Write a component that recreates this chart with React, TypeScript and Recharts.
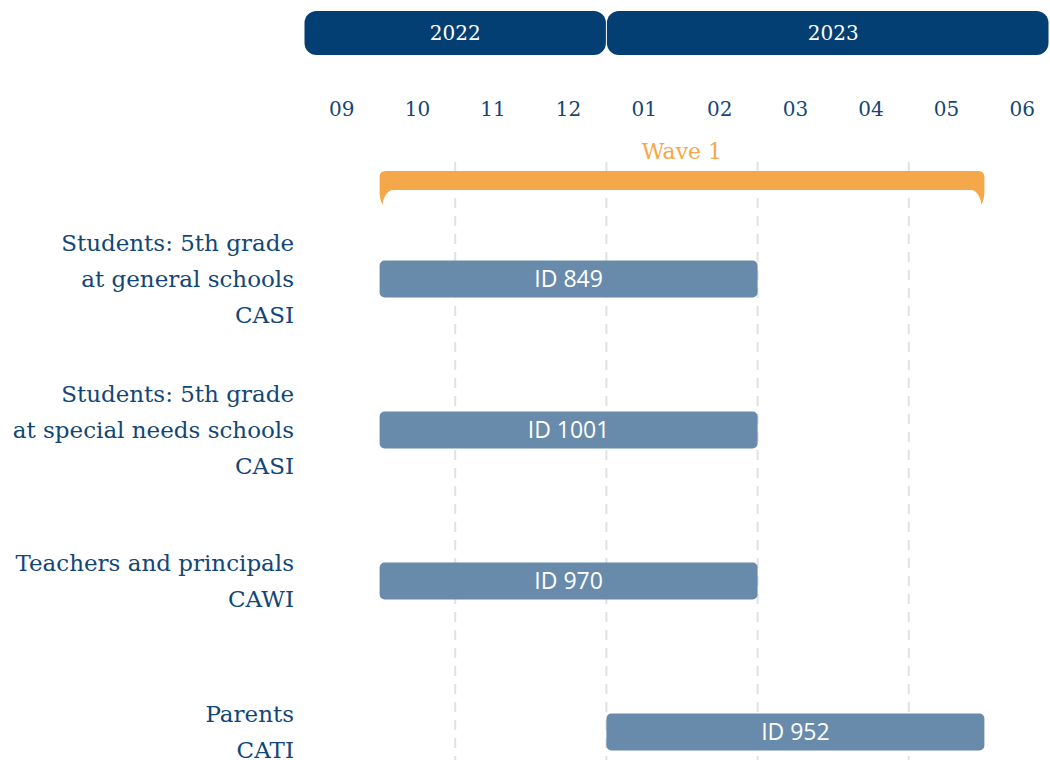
import React from "react";
import { BarChart, Bar, XAxis, YAxis, ReferenceArea, CartesianGrid, LabelList } from "recharts";

// survey rows (label lines split by \n)
const ROWS = [
  "Students: 5th grade\nat general schools\nCASI",
  "Students: 5th grade\nat special needs schools\nCASI",
  "Teachers and principals\nCAWI",
  "Parents\nCATI",
];
const STUDY_IDS = ["ID 849", "ID 1001", "ID 970", "ID 952"];
const FIELD_START = ["2022-10", "2022-10", "2022-10", "2023-01"];
const FIELD_END = ["2023-03", "2023-03", "2023-03", "2023-06"];

const MONTH_LABELS = ["09", "10", "11", "12", "01", "02", "03", "04", "05", "06"];
const YEARS = ["2022", "2023"];
const YEAR_START = ["2022-09", "2023-01"];
const YEAR_END = ["2023-01", "2023-07"];
const GRID_MONTHS = ["2022-11", "2023-01", "2023-03", "2023-05"];

const WAVE_LABEL = "Wave 1";
const WAVE_START = "2022-10";
const WAVE_END = "2023-06";

const NAVY = "#033f73";
const TEXT_BLUE = "#124676";
const BAR_BLUE = "#688bab";
const ORANGE = "#f5a84a";
const SERIF = "'DejaVu Serif', serif";

// months since 2022-09-01
const monthIndex = (s: string) => {
  const [y, m] = s.split("-").map(Number);
  return (y - 2022) * 12 + m - 9;
};

const data = ROWS.map((row, i) => ({
  row,
  id: STUDY_IDS[i],
  span: [monthIndex(FIELD_START[i]), monthIndex(FIELD_END[i])],
}));

const monthTicks = MONTH_LABELS.map((_, i) => i + 0.5);

const MonthTick = (props: any) => {
  const { x, y, payload } = props;
  return (
    <text x={x} y={y} textAnchor="middle" fill={TEXT_BLUE} fontFamily={SERIF} fontSize={20}>
      {MONTH_LABELS[Math.floor(payload.value)]}
    </text>
  );
};

const RowTick = (props: any) => {
  const { x, y, payload } = props;
  const lines = String(payload.value).split("\n");
  const mid = (lines.length - 1) / 2;
  return (
    <text textAnchor="end" fill={TEXT_BLUE} fontFamily={SERIF} fontSize={23}>
      {lines.map((l, k) => (
        <tspan key={k} x={x} y={y + (k - mid) * 36 + 8}>
          {l}
        </tspan>
      ))}
    </text>
  );
};

const yearShape = (label: string) => (props: any) => {
  const { x, width } = props;
  const right = Math.min(x + width, 1049);
  return (
    <g>
      <rect x={x + 0.5} y={11} width={right - x - 1} height={44} rx={12} fill={NAVY} />
      <text x={x + width / 2} y={40} textAnchor="middle" fill="#fff" fontFamily={SERIF} fontSize={20}>
        {label}
      </text>
    </g>
  );
};

const waveShape = (props: any) => {
  const { x, width } = props;
  const L = x;
  const R = x + width;
  const d = [
    `M ${L + 6} 171`,
    `H ${R - 6}`,
    `Q ${R} 171 ${R} 177`,
    `V 193`,
    `Q ${R} 199 ${R - 3} 205`,
    `Q ${R - 4} 193 ${R - 12} 190`,
    `H ${L + 12}`,
    `Q ${L + 4} 193 ${L + 3} 205`,
    `Q ${L} 199 ${L} 193`,
    `V 177`,
    `Q ${L} 171 ${L + 6} 171`,
    "Z",
  ].join(" ");
  return (
    <g>
      <path d={d} fill={ORANGE} />
      <text x={(L + R) / 2} y={159} textAnchor="middle" fill={ORANGE} fontFamily={SERIF} fontSize={22}>
        {WAVE_LABEL}
      </text>
    </g>
  );
};

const BarLabel = (props: any) => {
  const { x, y, width, height, value } = props;
  return (
    <text
      x={x + width / 2}
      y={y + height / 2}
      dy={-1}
      textAnchor="middle"
      dominantBaseline="central"
      fill="#fff"
      fontFamily="'Open Sans', sans-serif"
      fontSize={23}
    >
      {value}
    </text>
  );
};

export default function App() {
  return (
    <div
      style={{ position: "absolute", left: 0, top: 0, width: 1050, height: 760, overflow: "hidden", background: "#fff" }}
    >
      <BarChart
        layout="vertical"
        width={1060}
        height={760}
        data={data}
        margin={{ top: 102, right: 0, bottom: 0, left: 0 }}
      >
        <CartesianGrid
          horizontal={false}
          stroke="#e2e2e2"
          strokeWidth={2}
          strokeDasharray="10 8"
          verticalValues={GRID_MONTHS.map(monthIndex)}
        />
        <XAxis
          type="number"
          orientation="top"
          domain={[0, 10]}
          ticks={monthTicks}
          interval={0}
          height={60}
          tickSize={0}
          tickMargin={46}
          axisLine={false}
          tickLine={false}
          tick={<MonthTick />}
        />
        <YAxis
          type="category"
          dataKey="row"
          width={304}
          tickSize={0}
          tickMargin={10}
          axisLine={false}
          tickLine={false}
          padding={{ top: 41.5, bottom: -47.5 }}
          tick={<RowTick />}
        />
        {YEARS.map((yr, i) => (
          <ReferenceArea
            key={yr}
            x1={monthIndex(YEAR_START[i])}
            x2={monthIndex(YEAR_END[i])}
            ifOverflow="visible"
            shape={yearShape(yr)}
          />
        ))}
        <ReferenceArea x1={monthIndex(WAVE_START)} x2={monthIndex(WAVE_END)} ifOverflow="visible" shape={waveShape} />
        <Bar dataKey="span" fill={BAR_BLUE} barSize={37} radius={5} isAnimationActive={false}>
          <LabelList dataKey="id" content={<BarLabel />} />
        </Bar>
      </BarChart>
    </div>
  );
}
